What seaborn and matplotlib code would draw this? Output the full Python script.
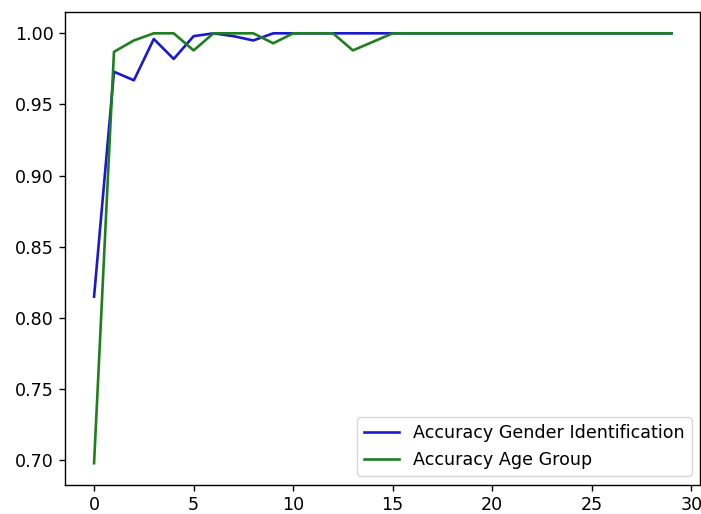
import numpy as np
import pandas as pd
import matplotlib
matplotlib.use('Agg')
import matplotlib.pyplot as plt
import seaborn as sns

# epoch numaraları
epochs = list(range(30))

# cinsiyet tanıma doğruluğu
acc_gender = [0.815, 0.973, 0.967, 0.996, 0.982, 0.998, 1.0, 0.998, 0.995, 1.0,
              1.0, 1.0, 1.0, 1.0, 1.0, 1.0, 1.0, 1.0, 1.0, 1.0,
              1.0, 1.0, 1.0, 1.0, 1.0, 1.0, 1.0, 1.0, 1.0, 1.0]

# yaş grubu doğruluğu
acc_age = [0.698, 0.987, 0.995, 1.0, 1.0, 0.988, 1.0, 1.0, 1.0, 0.993,
           1.0, 1.0, 1.0, 0.988, 0.994, 1.0, 1.0, 1.0, 1.0, 1.0,
           1.0, 1.0, 1.0, 1.0, 1.0, 1.0, 1.0, 1.0, 1.0, 1.0]

df = pd.DataFrame({
    'epoch': epochs * 2,
    'acc': acc_gender + acc_age,
    'seri': ['Accuracy Gender Identification'] * 30 + ['Accuracy Age Group'] * 30,
})

fig, ax = plt.subplots(figsize=(7.01, 5.14), dpi=100)
sns.lineplot(data=df, x='epoch', y='acc', hue='seri', ax=ax,
             palette=['#1a1acc', '#1f7f1f'], linewidth=1.9)
ax.set_xlabel('')
ax.set_ylabel('')
ax.set_xticks([0, 5, 10, 15, 20, 25, 30])
ax.set_yticks([0.70, 0.75, 0.80, 0.85, 0.90, 0.95, 1.00])
ax.set_yticklabels(['0.70', '0.75', '0.80', '0.85', '0.90', '0.95', '1.00'])
ax.legend(loc='lower right', title=None, fontsize=12.6)
ax.tick_params(labelsize=12.6, length=4.5, width=1.0)
for s in ax.spines.values():
    s.set_linewidth(1.0)
plt.subplots_adjust(left=0.093, right=0.999, top=0.977, bottom=0.057)
plt.savefig('out.png', dpi=100)
